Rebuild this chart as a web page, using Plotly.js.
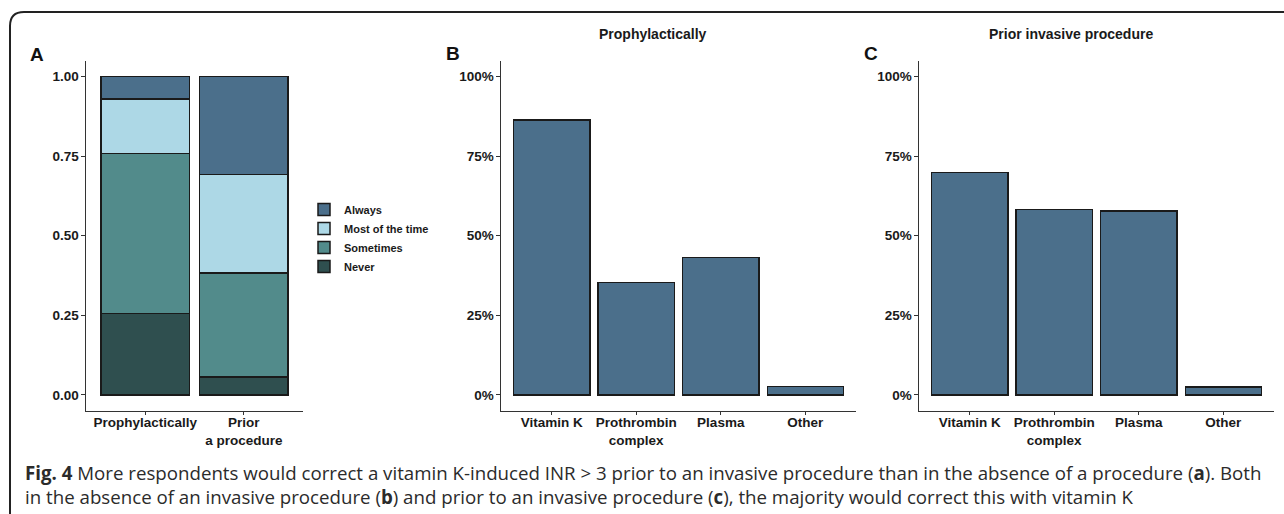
<!DOCTYPE html>
<html><head><meta charset="utf-8">
<script src="https://cdn.plot.ly/plotly-3.0.1.min.js"></script>
<style>html,body{margin:0;padding:0;background:#fff;} #chart{width:1284px;height:514px;}</style>
</head><body><div id="chart"></div>
<script>
// ---- data ----
const situations = ['Prophylactically', 'Prior<br>a procedure'];
const neverShare = [0.255, 0.056];
const sometimesShare = [0.504, 0.327];
const mostOfTheTimeShare = [0.170, 0.310];
const alwaysShare = [0.071, 0.307];
const frequencyNames = ['Never', 'Sometimes', 'Most of the time', 'Always'];

const agents = ['Vitamin K', 'Prothrombin<br>complex', 'Plasma', 'Other'];
const prophylacticShare = [0.863, 0.353, 0.431, 0.026];
const priorProcedureShare = [0.699, 0.583, 0.577, 0.024];

const panelTitles = ['Prophylactically', 'Prior invasive procedure'];
const panelLetters = ['A', 'B', 'C'];
const captionLines = [
  '<b>Fig. 4</b> More respondents would correct a vitamin K-induced INR &gt; 3 prior to an invasive procedure than in the absence of a procedure (<b>a</b>). Both',
  'in the absence of an invasive procedure (<b>b</b>) and prior to an invasive procedure (<b>c</b>), the majority would correct this with vitamin K'
];

// ---- styles ----
const W = 1284, H = 514;
const fx = p => p / W, fy = p => 1 - p / H;
const FONT = 'Liberation Sans, Arial, Helvetica, sans-serif';
const INK = '#1a1a1a';
const freqColors = ['#2f4f4f', '#528b8b', '#add8e6', '#4b6f8b'];
const barColor = '#4b6f8b';
const outline = {color: '#1a1a1a', width: 1.5};

const freqValues = [neverShare, sometimesShare, mostOfTheTimeShare, alwaysShare];
const traces = [];
frequencyNames.forEach((name, i) => {
  traces.push({type: 'bar', name: name, x: situations, y: freqValues[i],
    xaxis: 'x', yaxis: 'y', marker: {color: freqColors[i], line: outline},
    hoverinfo: 'name+y'});
});
traces.push({type: 'bar', x: agents, y: prophylacticShare, xaxis: 'x2', yaxis: 'y2',
  marker: {color: barColor, line: outline}, showlegend: false});
traces.push({type: 'bar', x: agents, y: priorProcedureShare, xaxis: 'x3', yaxis: 'y3',
  marker: {color: barColor, line: outline}, showlegend: false});

const tickFont = {family: FONT, size: 13.5, color: INK, weight: 'bold'};
function xAx(l, r, anchor, n) {
  return {domain: [fx(l), fx(r)], anchor: anchor, type: 'category', range: [-0.6, n - 0.4],
    showline: true, linecolor: '#333', linewidth: 1.5, ticks: 'outside', ticklen: 3,
    tickcolor: '#333', tickwidth: 1, showgrid: false, zeroline: false, tickfont: tickFont,
    ticklabelstandoff: -4, fixedrange: true};
}
function yAx(anchor, fmt) {
  return {domain: [fy(410.7), fy(60.7)], anchor: anchor, range: [-0.05, 1.05], tick0: 0, dtick: 0.25,
    tickformat: fmt, showline: true, linecolor: '#333', linewidth: 1.5, ticks: 'outside', ticklen: 4,
    tickcolor: '#333', tickwidth: 1, showgrid: false, zeroline: false, tickfont: tickFont,
    ticklabelstandoff: -1, fixedrange: true};
}

const annotations = [];
const letterPos = [[37, 55], [453, 54], [871, 54]];
panelLetters.forEach((t, i) => annotations.push({text: t, xref: 'paper', yref: 'paper',
  x: fx(letterPos[i][0]), y: fy(letterPos[i][1]), xanchor: 'center', yanchor: 'middle', showarrow: false,
  font: {family: FONT, size: 19, color: '#111', weight: 'bold'}}));
const titlePos = [[653, 34], [1071, 34]];
panelTitles.forEach((t, i) => annotations.push({text: t, xref: 'paper', yref: 'paper',
  x: fx(titlePos[i][0]), y: fy(titlePos[i][1]), xanchor: 'center', yanchor: 'middle', showarrow: false,
  font: {family: FONT, size: 14, color: INK, weight: 'bold'}}));
const capY = [472.7, 496];
captionLines.forEach((t, i) => annotations.push({text: t, xref: 'paper', yref: 'paper',
  x: fx(23), y: fy(capY[i]), xanchor: 'left', yanchor: 'middle', showarrow: false,
  font: {family: 'Open Sans, sans-serif', size: 18.7, color: '#2b2b2b'}}));

const r = 14, bx = 10, by = 12;
const framePath = 'M ' + fx(bx) + ',0 L ' + fx(bx) + ',' + fy(by + r) +
  ' Q ' + fx(bx) + ',' + fy(by) + ' ' + fx(bx + r) + ',' + fy(by) + ' L 1,' + fy(by);

const layout = {
  width: W, height: H, margin: {l: 0, r: 0, t: 0, b: 0},
  paper_bgcolor: '#fff', plot_bgcolor: '#fff',
  barmode: 'stack', bargap: 0.1,
  xaxis: xAx(86, 303, 'y', 2), yaxis: yAx('x', '.2f'),
  xaxis2: xAx(501, 856, 'y2', 4), yaxis2: yAx('x2', '.0%'),
  xaxis3: xAx(919, 1274, 'y3', 4), yaxis3: yAx('x3', '.0%'),
  showlegend: true,
  legend: {x: fx(304), y: fy(238), xanchor: 'left', yanchor: 'middle', traceorder: 'reversed',
    bgcolor: 'rgba(0,0,0,0)', borderwidth: 0, tracegroupgap: 0,
    font: {family: FONT, size: 11, color: INK, weight: 'bold'}},
  annotations: annotations,
  shapes: [{type: 'path', xref: 'paper', yref: 'paper', path: framePath,
    line: {color: '#222', width: 2}}]
};
Plotly.newPlot('chart', traces, layout, {displayModeBar: false, staticPlot: true});
</script></body></html>
